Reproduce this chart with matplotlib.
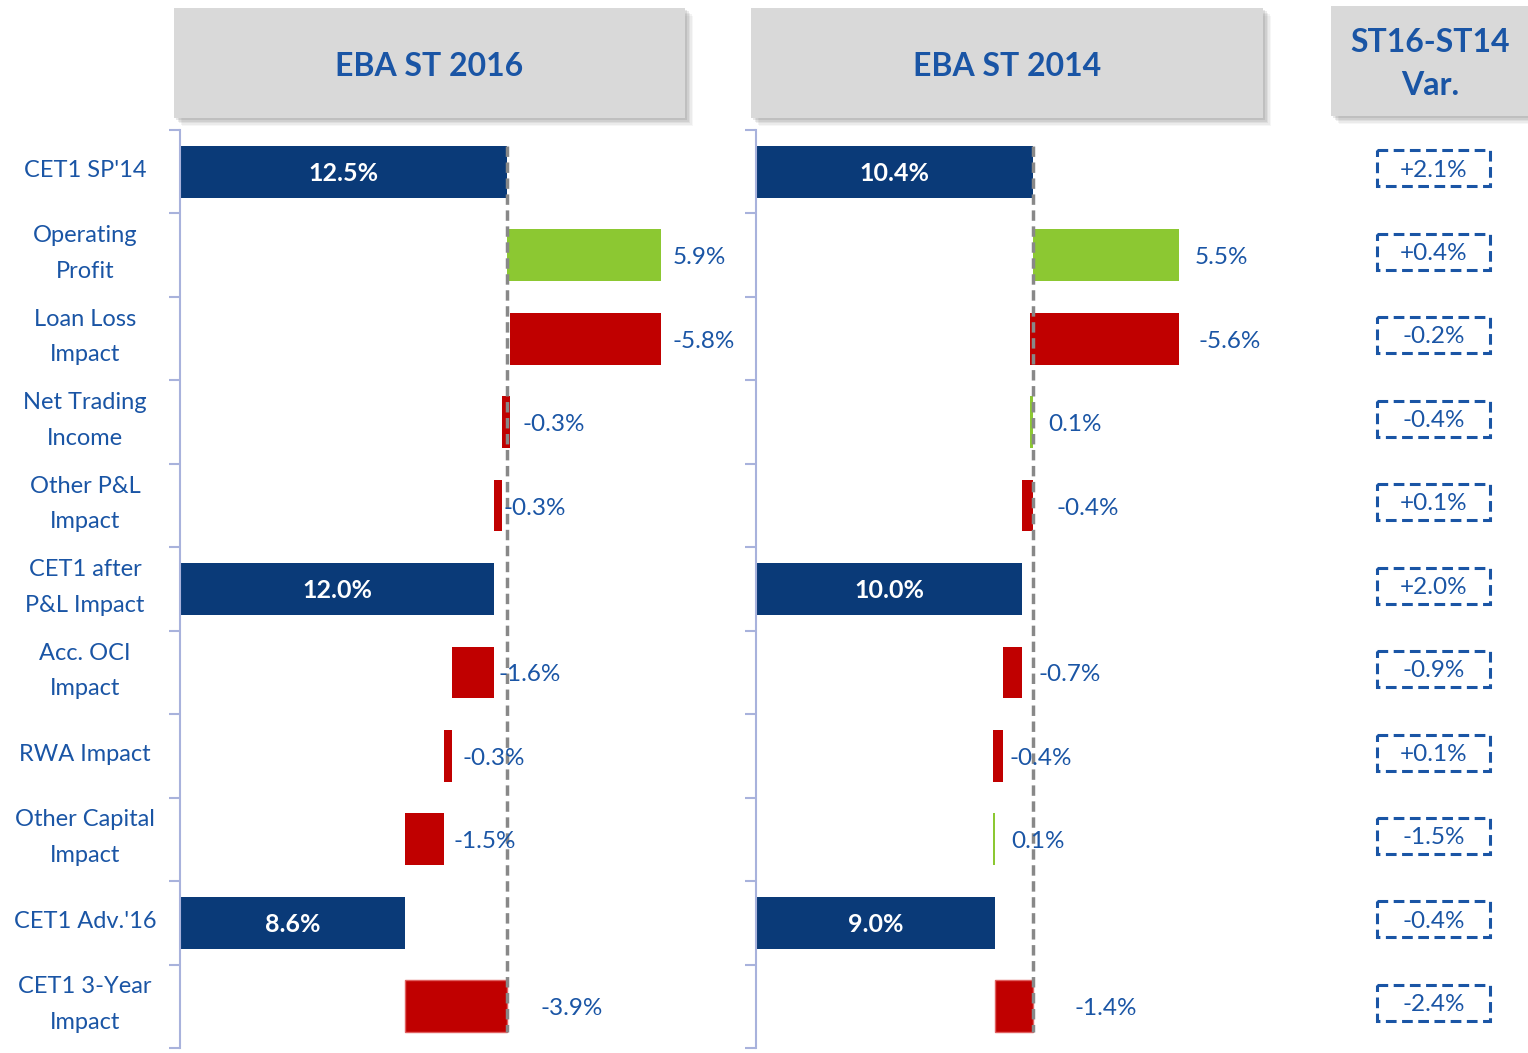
import matplotlib
matplotlib.use("Agg")
import matplotlib.pyplot as plt
from matplotlib.patches import Rectangle
import matplotlib.transforms as mtransforms

# ---------------- data ----------------
categories = ["CET1 SP'14", "Operating\nProfit", "Loan Loss\nImpact", "Net Trading\nIncome",
              "Other P&L\nImpact", "CET1 after\nP&L Impact", "Acc. OCI\nImpact", "RWA Impact",
              "Other Capital\nImpact", "CET1 Adv.'16", "CET1 3-Year\nImpact"]
row_kind = ["total", "delta", "delta", "delta", "delta", "total", "delta", "delta", "delta", "total", "impact"]
st2016 = [12.5, 5.9, -5.8, -0.3, -0.3, 12.0, -1.6, -0.3, -1.5, 8.6, -3.9]
st2014 = [10.4, 5.5, -5.6, 0.1, -0.4, 10.0, -0.7, -0.4, 0.1, 9.0, -1.4]
variation = [2.1, 0.4, -0.2, -0.4, 0.1, 2.0, -0.9, 0.1, -1.5, -0.4, -2.4]
panel_titles = ["EBA ST 2016", "EBA ST 2014"]
var_title = "ST16-ST14\nVar."

# ---------------- style ----------------
W, H = 1528, 1053
NAVY = "#0a3a78"
GREEN = "#8cc832"
RED = "#c00000"
TXT = "#1a55a5"
SPINE = "#a8b2dc"
BOXGRAY = "#d9d9d9"
FONT = "Lato"
label_pad_2016 = [0, 11, 11, 13, 2, 0, 5, 10, 9, 0, 33]
label_pad_2014 = [0, 16, 20, 16, 24, 0, 16, 6, 16, 0, 42]

plt.rcParams["font.family"] = [FONT, "DejaVu Sans"]
fig = plt.figure(figsize=(W / 100, H / 100), dpi=100)


def fx(px):
    return px / W


def fy(py):
    return 1 - py / H


def header_box(x0, y0, x1, y1, text, fs, tx=None):
    # soft shadow
    for i, a in enumerate([0.06, 0.08, 0.10, 0.13, 0.16]):
        off = 8 - i * 1.5
        fig.add_artist(Rectangle((fx(x0 + off), fy(y1 + off)), fx(x1 - x0), (y1 - y0) / H,
                                 transform=fig.transFigure, facecolor="#707070",
                                 edgecolor="none", alpha=a, zorder=1))
    fig.add_artist(Rectangle((fx(x0), fy(y1)), fx(x1 - x0), (y1 - y0) / H,
                             transform=fig.transFigure, facecolor=BOXGRAY,
                             edgecolor="none", zorder=2))
    if tx is None:
        tx = (x0 + x1) / 2
    fig.text(fx(tx), fy((y0 + y1) / 2 + 3), text, ha="center", va="center",
             fontsize=fs, fontweight="bold", color=TXT, zorder=3, linespacing=1.55)


header_box(174, 8, 685, 118, panel_titles[0], 23)
header_box(751, 8, 1263, 118, panel_titles[1], 23)
header_box(1331, 6, 1540, 116, var_title, 23, tx=1430)

n = len(categories)
bar_h = 0.62


def make_axes(left_px, right_px, scale):
    ax = fig.add_axes([fx(left_px), fy(1048), fx(right_px - left_px), (1048 - 130) / H])
    ax.set_xlim(0, (right_px - left_px) / scale)
    ax.set_ylim(n - 0.5, -0.5)
    for s in ["top", "right", "bottom"]:
        ax.spines[s].set_visible(False)
    ax.spines["left"].set_color(SPINE)
    ax.spines["left"].set_linewidth(1.5)
    ax.set_xticks([])
    ax.set_yticks([i - 0.5 for i in range(n + 1)])
    ax.set_yticklabels([])
    ax.tick_params(axis="y", direction="out", length=8, width=1.5, color=SPINE)
    ax.patch.set_alpha(0)
    return ax


def draw_panel(ax, values, pads):
    start = values[0]
    level = 0.0
    for i, (v, kind) in enumerate(zip(values, row_kind)):
        if kind == "total":
            ax.barh(i, v, left=0, height=bar_h, color=NAVY, zorder=2)
            ax.text(v / 2, i + 0.02, f"{v:.1f}%", ha="center", va="center", color="white",
                    fontsize=18, fontweight="bold", zorder=4)
            level = v
            continue
        if kind == "delta":
            new = level + v
            left, right = min(level, new), max(level, new)
            color = GREEN if v >= 0 else RED
            ax.barh(i, right - left, left=left, height=bar_h, color=color, zorder=2)
            level = new
        else:  # impact from start to adverse
            left, right = min(level, start), max(level, start)
            ax.barh(i, right - left, left=left, height=bar_h, color=RED,
                    edgecolor="#e06060", linewidth=1, zorder=2)
        ax.annotate(f"{v:.1f}%", (right, i + 0.03), xytext=(pads[i] * 0.72, 0),
                    textcoords="offset points", ha="left", va="center",
                    color=TXT, fontsize=17.5, zorder=4)
    ax.plot([start, start], [-bar_h / 2, n - 1 + bar_h / 2], color="#888888",
            lw=2.5, ls=(0, (3, 1.6)), zorder=3)


ax1 = make_axes(180, 740, 26.16)
ax2 = make_axes(756, 1320, 26.6)
draw_panel(ax1, st2016, label_pad_2016)
draw_panel(ax2, st2014, label_pad_2014)

# category labels
trans = mtransforms.blended_transform_factory(fig.transFigure, ax1.transData)
for i, c in enumerate(categories):
    fig.text(fx(85), i - 0.02, c, transform=trans, ha="center", va="center", color=TXT,
             fontsize=17, linespacing=1.85)

# variation column
ax3 = fig.add_axes([fx(1331), fy(1048), fx(197), (1048 - 130) / H])
ax3.set_xlim(0, 197)
ax3.set_ylim(n - 0.5, -0.5)
ax3.axis("off")
box_h = 36 / 83.5
for i, v in enumerate(variation):
    yc = i - 0.04
    ax3.add_patch(Rectangle((46, yc - box_h / 2), 113, box_h, facecolor="none",
                            edgecolor=TXT, lw=2.2, ls=(0, (3.5, 1.8))))
    ax3.text(103, yc + 0.02, f"{v:+.1f}%", ha="center", va="center", color=TXT, fontsize=17.5)

fig.savefig("out.png", dpi=100)
